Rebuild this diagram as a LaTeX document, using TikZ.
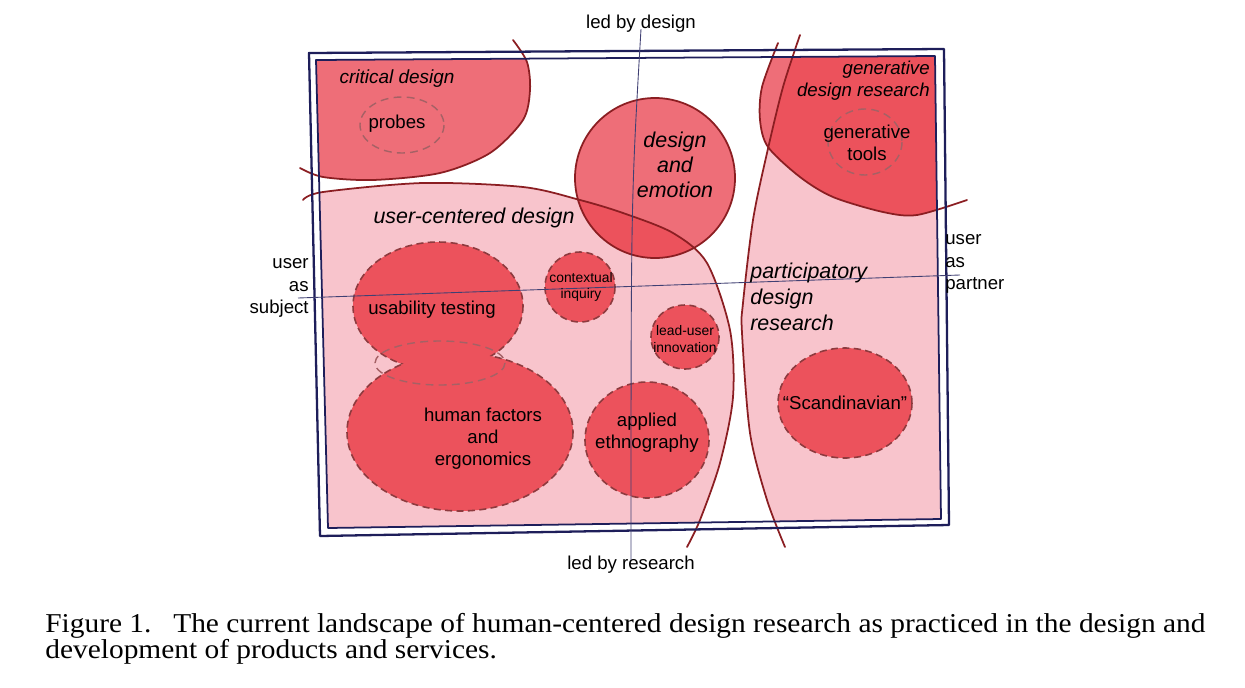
\documentclass[tikz,border=0pt]{standalone}
\usepackage{fontspec}
\setmainfont{Liberation Sans}
\newfontfamily\capfont[FakeStretch=1.08]{Liberation Serif}
\usepackage{xcolor}
\usetikzlibrary{positioning,calc}
\definecolor{ldpink}{HTML}{F8C4CC}
\definecolor{ldrose}{HTML}{EE6E78}
\definecolor{ldred}{HTML}{EC525C}
\definecolor{ldbrown}{HTML}{8B1E22}
\definecolor{lddash}{HTML}{8E3A3E}
\definecolor{ldnavy}{HTML}{1E1E5A}

% region outlines (pixel grid)
\def\ldouter{(309,53) -- (944,49) -- (949,525) -- (320,536) -- cycle}
\def\ldinner{(316,60) -- (935,56) -- (941,519) -- (328,528) -- cycle}
\def\crdline{plot[smooth] coordinates {(513,40) (527,62) (530,90) (523,120) (490,153) (440,173) (373,180) (323,177) (300,168)}}
\def\ucdline{plot[smooth] coordinates {(303,200) (323,192) (423,183) (523,187) (580,200) (623,213) (673,233) (707,263) (730,330) (733,397) (720,463) (700,520) (687,547)}}
\def\gdrline{plot[smooth] coordinates {(778,43) (762,87) (760,120) (768,147) (800,177) (833,197) (883,212) (917,215) (967,200)}}
\def\pdrline{plot[smooth] coordinates {(800,35) (783,87) (767,153) (753,220) (743,303) (742,333) (750,433) (767,500) (785,547)}}

\begin{document}
\begin{tikzpicture}[x=0.02cm, y=-0.02cm,
  bound/.style={draw=ldbrown, line width=1pt, line cap=round},
  border/.style={draw=ldnavy, line width=#1, line join=round},
  blob/.style={fill=ldred, draw=lddash, line width=0.9pt, dash pattern=on 4pt off 2.5pt},
  blobline/.style={draw=lddash, line width=0.9pt, dash pattern=on 4pt off 2.5pt},
  ring/.style={draw=lddash!80, line width=0.8pt, dash pattern=on 4.5pt off 3pt},
  axisline/.style={draw=ldnavy!85, line width=0.5pt},
  lbl/.style={font=\fontsize{10.6}{12.6}\selectfont, align=center, inner sep=0pt},
  area/.style={font=\fontsize{12.2}{14.6}\selectfont\itshape, align=center, inner sep=0pt},
  small/.style={font=\fontsize{7.9}{9.2}\selectfont, align=center, inner sep=0pt},
]
\useasboundingbox (0,0) rectangle (1245,687);

% Landscape fills
\begin{scope}
  \clip \ldinner;
  \fill[ldpink] \ucdline -- (300,550) -- cycle;
  \fill[ldpink] \pdrline -- (970,550) -- (970,30) -- cycle;
  \fill[ldrose] \crdline -- (300,30) -- cycle;
  \fill[ldrose] \gdrline -- (970,30) -- cycle;
  \begin{scope}
    \clip \pdrline -- (970,550) -- (970,30) -- cycle;
    \fill[ldred] \gdrline -- (970,30) -- cycle;
  \end{scope}
\end{scope}

% Design and emotion
\fill[ldrose] (655,178) circle [radius=80];
\begin{scope}
  \clip \ucdline -- (300,550) -- cycle;
  \fill[ldred] (655,178) circle [radius=80];
\end{scope}

% Usability testing + human factors
\fill[ldred] (438,306) ellipse [x radius=85, y radius=64];
\fill[ldred] (460,432) ellipse [x radius=113, y radius=79];
\begin{scope}[even odd rule]
  \clip (300,200) rectangle (760,560) (460,432) ellipse [x radius=113, y radius=79];
  \draw[blobline] (438,306) ellipse [x radius=85, y radius=64];
\end{scope}
\begin{scope}[even odd rule]
  \clip (300,200) rectangle (760,560) (438,306) ellipse [x radius=85, y radius=64];
  \draw[blobline] (460,432) ellipse [x radius=113, y radius=79];
\end{scope}
\draw[ring] (440,363) ellipse [x radius=65, y radius=22];

% Other methods
\filldraw[blob] (580,287) circle [radius=35];
\filldraw[blob] (685,337) ellipse [x radius=34, y radius=32];
\filldraw[blob] (647,440) ellipse [x radius=62, y radius=58];
\filldraw[blob] (845,403) ellipse [x radius=67, y radius=55];
\draw[ring] (402,125) ellipse [x radius=42, y radius=28];
\draw[ring] (865,142) ellipse [x radius=37, y radius=33];

% Boundaries
\draw[bound] \crdline;
\draw[bound] \ucdline;
\draw[bound] \gdrline;
\draw[bound] \pdrline;
\draw[bound] (655,178) circle [radius=80];

% Frame
\draw[border=1.3pt] \ldouter;
\draw[border=1pt] \ldinner;

% Axes
\node[lbl] (lbd) at (641,24) {led by design};
\node[lbl] (lbr) at (631,565) {led by research};
\node[lbl, anchor=east, align=right] (uas) at (309,288) {user\\as\\subject};
\node[lbl, anchor=west, align=left] (uap) at (945,264) {user\\as\\partner};
\coordinate (hl) at (298,298);
\coordinate (hr) at (960,275);
\draw[axisline] (lbd.south) ++(0,-4) .. controls (631,200) .. ($(lbr.north)+(0,4)$);
\draw[axisline] (hl) -- (hr);

% Labels
\node[lbl, font=\fontsize{10.8}{12.6}\selectfont\itshape] (crd) at (397,79) {critical design};
\node[lbl] (prb) at (397,124) {probes};
\node[area] (ucd) at (474,218) {user-centered design};
\node[area, font=\fontsize{12.2}{14.2}\selectfont\itshape] (dae) at (675,165) {design\\and\\emotion};
\node[lbl, font=\fontsize{10.6}{12.5}\selectfont\itshape, anchor=east, align=right] (gdr) at (930,81) {generative\\design research};
\node[lbl] (gtl) at (867,143) {generative\\tools};
\node[area, font=\fontsize{12.2}{14.7}\selectfont\itshape, anchor=west, align=left] (pdr) at (750,297) {participatory\\design\\research};
\node[lbl] (ust) at (432,310) {usability testing};
\node[small] (ctx) at (581,287) {contextual\\inquiry};
\node[small] (lui) at (685,339) {lead-user\\innovation};
\node[lbl, font=\fontsize{10.6}{12.5}\selectfont] (hfe) at (483,439) {human factors\\and\\ergonomics};
\node[lbl, font=\fontsize{10.6}{12.5}\selectfont] (aeg) at (647,433) {applied\\ethnography};
\node[lbl] (scn) at (845,403) {``Scandinavian''};

% Caption
\node[anchor=north west, align=left, inner sep=0pt,
      font=\capfont\fontsize{15.5}{14.7}\selectfont] (cap) at (45,613)
  {Figure 1.\hspace{0.8em}The current landscape of human-centered design research as practiced in the design and\\development of products and services.};
\end{tikzpicture}
\end{document}
